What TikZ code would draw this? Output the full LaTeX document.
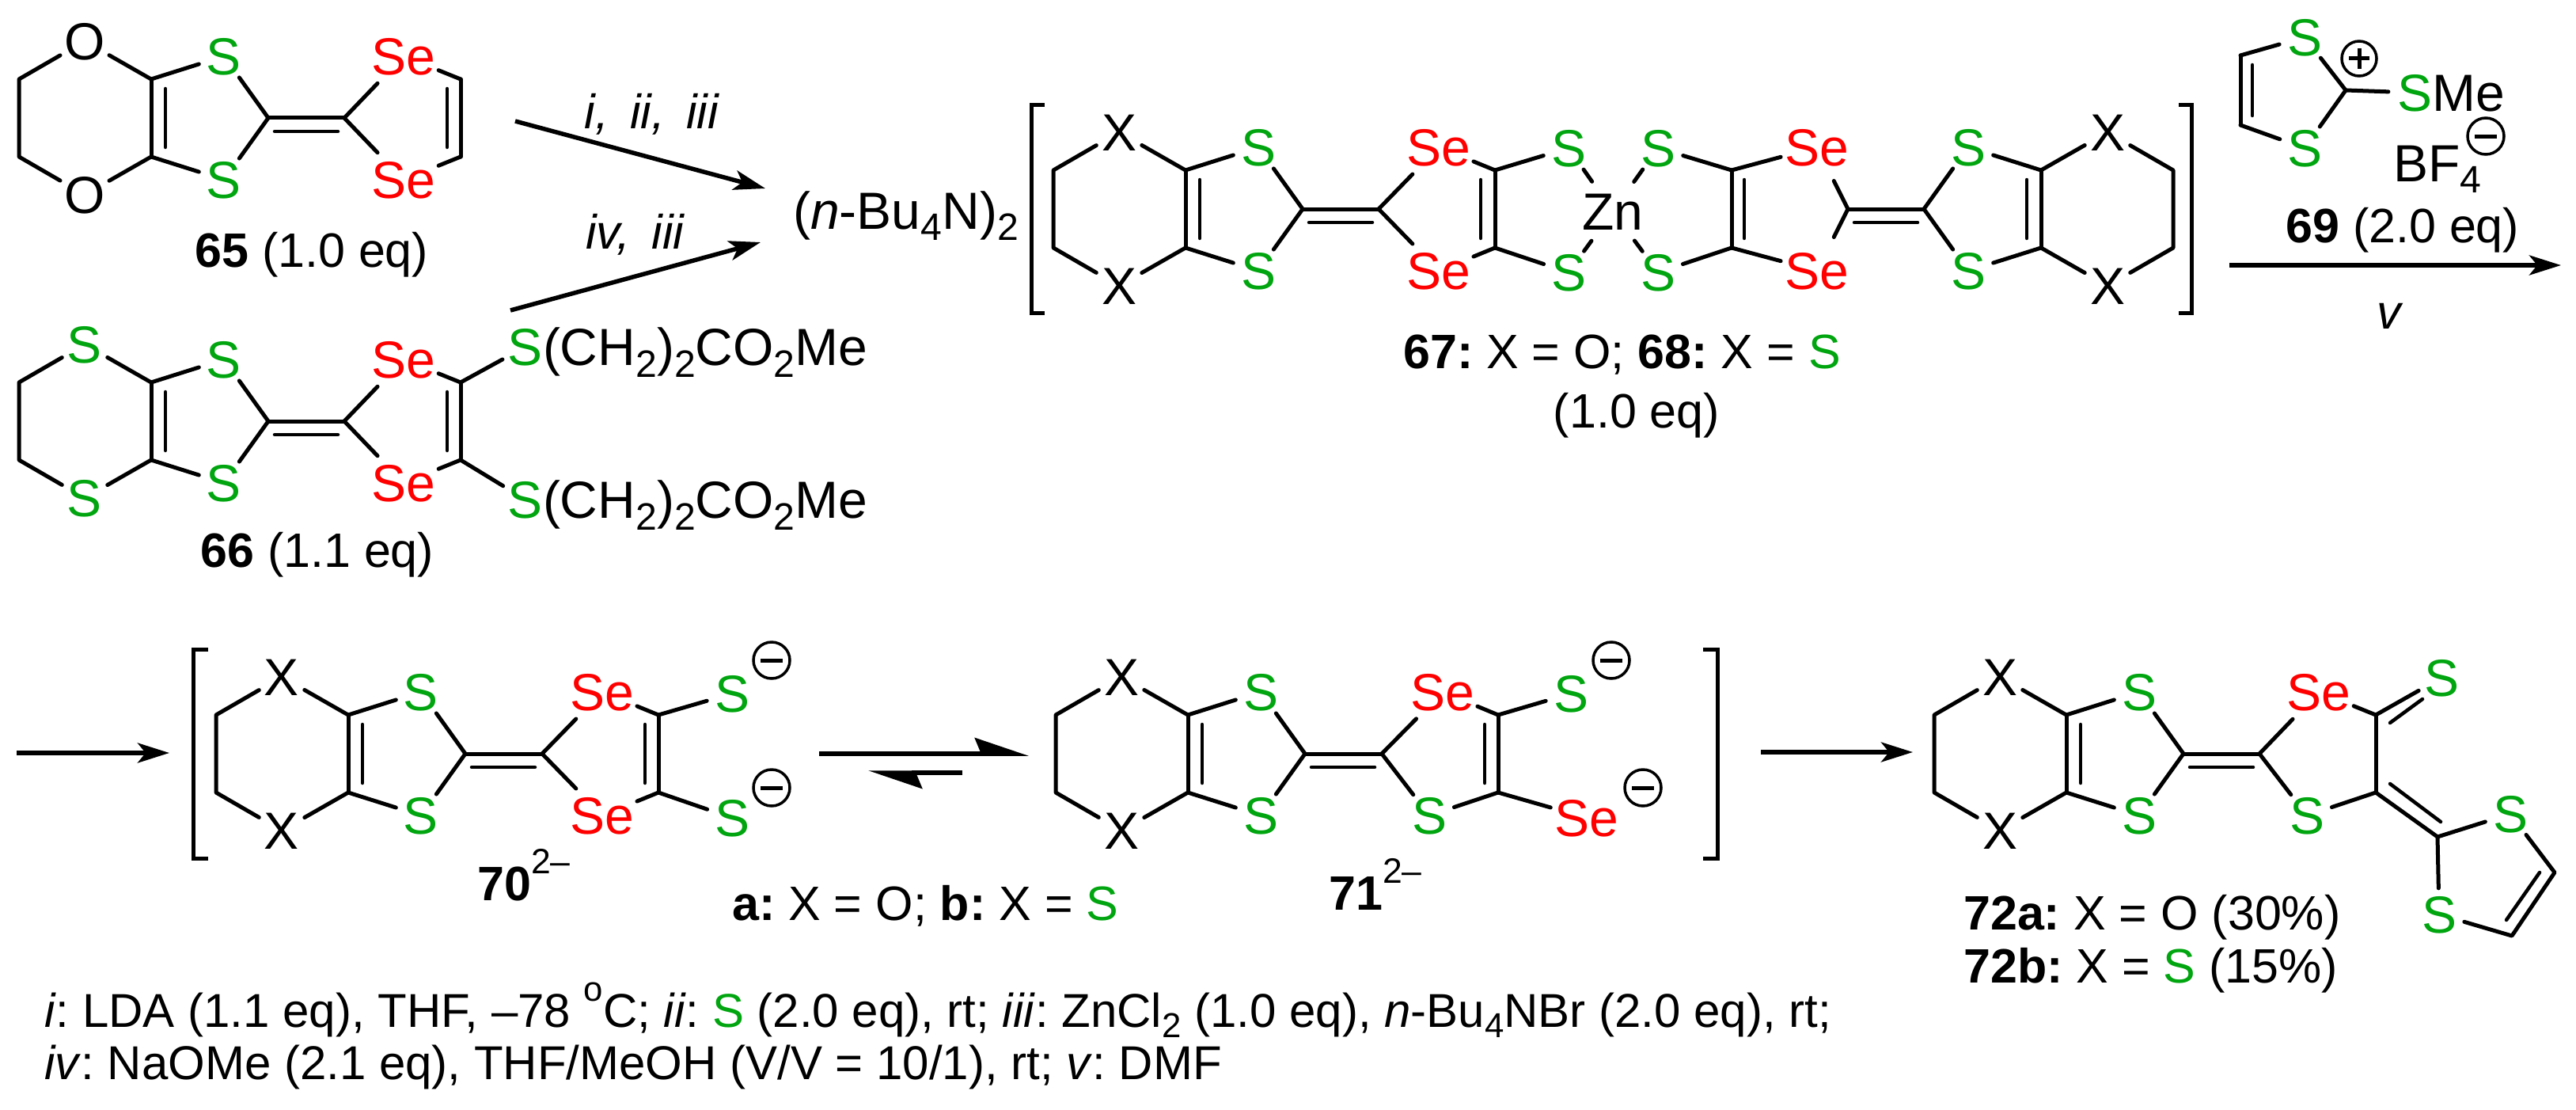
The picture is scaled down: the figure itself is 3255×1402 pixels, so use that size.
\documentclass[tikz,border=0pt]{standalone}
\usepackage{fontspec}
\setmainfont{Liberation Sans}
\usetikzlibrary{arrows.meta}
\definecolor{sgreen}{RGB}{0,165,15}
\definecolor{sered}{RGB}{255,0,0}
\newcommand\fs{\fontsize{61}{61}\selectfont\frenchspacing}
\newcommand\fa{\fontsize{66}{66}\selectfont\frenchspacing}
\newcommand\ff{\fontsize{60}{60}\selectfont\frenchspacing}
\newlength\subsz
\newcommand\lsub[1]{\raisebox{-0.22em}{\setlength\subsz{0.73em}\fontsize{\the\subsz}{\the\subsz}\selectfont #1}}
\newcommand\lsup[1]{\raisebox{0.55em}{\setlength\subsz{0.73em}\fontsize{\the\subsz}{\the\subsz}\selectfont #1}}
\newcommand\gS{\textcolor{sgreen}{S}}
\tikzset{
  atom/.style={circle,inner sep=0pt,outer sep=1pt,text height=47pt,text depth=0pt,font=\fa},
  atomS/.style={atom,text=sgreen},
  atomSe/.style={atom,text=sered},
  atomK/.style={atom,text=black},
  bond/.style={line width=5pt,line cap=round,line join=round},
  innerb/.style={line width=4.5pt,line cap=round},
  rxn/.style={line width=5.5pt,-{Stealth[length=40pt,width=25pt,inset=10pt]}},
  eqm/.style={line width=5.5pt,-{Stealth[harpoon,length=60pt,width=40pt,inset=8pt]}},
  lab/.style={anchor=base west,inner sep=0pt,font=\fs},
  laba/.style={anchor=base west,inner sep=0pt,font=\fa},
  labf/.style={anchor=base west,inner sep=0pt,font=\ff},
  labc/.style={anchor=base,inner sep=0pt,font=\fs},
  chg/.style={circle,draw,line width=3.5pt,minimum size=#1,inner sep=0pt},
  sign/.style={line width=5pt},
  brk/.style={line width=5pt,line join=miter}
}
% prefix, x, y, dir, hetero style, hetero text
\newcommand\donor[6]{%
\begin{scope}[shift={(#2,#3)},xscale=#4,name prefix=#1-]
\coordinate (c0) at (0,0);
\coordinate (c3) at (96,0);
\coordinate (c1) at (-148,-49);
\coordinate (c2) at (-148,49);
\coordinate (e1) at (-315,-49);
\coordinate (e2) at (-315,49);
\coordinate (i1) at (8,17);
\coordinate (i2) at (88,17);
\coordinate (i5) at (-130,-37);
\coordinate (i6) at (-130,37);
\node[#5] (h1) at (-232,-97) {#6};
\node[#5] (h2) at (-232,97) {#6};
\node[atomS] (s1) at (-56,-78) {S};
\node[atomS] (s2) at (-56,78) {S};
\draw[bond] (c0)--(s1);
\draw[bond] (c0)--(s2);
\draw[bond] (c0)--(c3);
\draw[innerb] (i1)--(i2);
\draw[bond] (s1)--(c1);
\draw[bond] (c1)--(c2);
\draw[innerb] (i5)--(i6);
\draw[bond] (c2)--(s2);
\draw[bond] (c1)--(h1);
\draw[bond] (c2)--(h2);
\draw[bond] (h1)--(e1)--(e2)--(h2);
\end{scope}}
% prefix, x, y, dir, Se dx, bottom style, bottom dx, bottom text
\newcommand\acceptor[8]{%
\begin{scope}[shift={(#2,#3)},xscale=#4,name prefix=#1-]
\coordinate (ca) at (0,0);
\coordinate (r1) at (147,-49);
\coordinate (r2) at (147,49);
\node[atomSe] (se1) at (#5,-78) {Se};
\node[#6] (se2) at (#7,78) {#8};
\draw[bond] (ca)--(se1);
\draw[bond] (ca)--(se2);
\draw[bond] (se1)--(r1);
\draw[bond] (se2)--(r2);
\end{scope}}
\newcommand\ringdbl[3]{%
\draw[bond] (#1)--(#2);
\draw[innerb] ([xshift=#3pt,yshift=-12pt]#1)--([xshift=#3pt,yshift=12pt]#2);}
\newcommand\chgminus[3]{%
\node[chg=46pt] (#1) at (#2,#3) {};
\draw[sign] ([xshift=-14pt]#1.center)--([xshift=14pt]#1.center);}
\begin{document}
\begin{tikzpicture}[x=1pt,y=-1pt]
\useasboundingbox (0,0) rectangle (3255,1402);
\fill[white] (0,0) rectangle (3255,1402);
% 65
\donor{a}{339}{149}{1}{atomK}{O}
\acceptor{ar}{435}{149}{1}{75}{atomSe}{75}{Se}
\ringdbl{ar-r1}{ar-r2}{-17}
\node[lab] (l65) at (246,337) {\textbf{65} (1.0 eq)};
% 66
\donor{b}{339}{532}{1}{atomS}{S}
\acceptor{br}{435}{532}{1}{75}{atomSe}{75}{Se}
\ringdbl{br-r1}{br-r2}{-17}
\node[atomS] (bs1) at (664,438) {S\rlap{\textcolor{black}{(CH\lsub{2})\lsub{2}CO\lsub{2}Me}}};
\node[atomS] (bs2) at (664,631) {S\rlap{\textcolor{black}{(CH\lsub{2})\lsub{2}CO\lsub{2}Me}}};
\draw[bond] (br-r1)--(bs1);
\draw[bond] (br-r2)--(bs2);
\node[lab] (l66) at (253,716) {\textbf{66} (1.1 eq)};
% arrows to 67
\coordinate (a1s) at (651,153);
\coordinate (a1e) at (967,238);
\coordinate (a2s) at (645,392);
\coordinate (a2e) at (961,306);
\draw[rxn] (a1s)--(a1e);
\draw[rxn] (a2s)--(a2e);
\node[labc] (t1) at (824,162) {\textit{i, \,ii, \,iii}};
\node[labc] (t2) at (803,314) {\textit{iv, \,iii}};
\node[laba] (cat) at (1002,289) {(\textit{n}-Bu\lsub{4}N)\lsub{2}};
% 67/68
\draw[brk] (1320,133)-|(1303,395)--(1320,395);
\donor{c}{1646}{264}{1}{atomK}{X}
\acceptor{cr}{1742}{264}{1}{76}{atomSe}{76}{Se}
\ringdbl{cr-r1}{cr-r2}{-18}
\donor{d}{2431}{264}{-1}{atomK}{X}
\acceptor{dr}{2335}{264}{-1}{39}{atomSe}{39}{Se}
\ringdbl{dr-r1}{dr-r2}{16}
\node[atomS] (zs1) at (1982,187) {S};
\node[atomS] (zs2) at (1982,344) {S};
\node[atomS] (zs3) at (2095,187) {S};
\node[atomS] (zs4) at (2095,344) {S};
\node[atomK] (zn) at (2038,267) {Zn};
\draw[bond] (cr-r1)--(zs1);
\draw[bond] (cr-r2)--(zs2);
\draw[bond] (dr-r1)--(zs3);
\draw[bond] (dr-r2)--(zs4);
\draw[bond] (zs1)--(zn);
\draw[bond] (zs2)--(zn);
\draw[bond] (zs3)--(zn);
\draw[bond] (zs4)--(zn);
\draw[brk] (2753,133)-|(2769,395)--(2753,395);
\node[lab] (l67) at (1773,465) {\textbf{67:} X = O; \textbf{68:} X = \gS};
\node[labc] (l67b) at (2068,540) {(1.0 eq)};
% 69
\node[atomS] (p1) at (2912,47) {S};
\node[atomS] (p2) at (2912,187) {S};
\coordinate (p3) at (2831,70);
\coordinate (p4) at (2831,158);
\coordinate (p5) at (2964,114);
\node[atomS] (p6) at (3051,117) {S\rlap{\textcolor{black}{Me}}};
\draw[bond] (p1)--(p3);
\ringdbl{p3}{p4}{15}
\draw[bond] (p4)--(p2);
\draw[bond] (p2)--(p5);
\draw[bond] (p5)--(p1);
\draw[bond] (p5)--(p6);
\node[chg=44pt] (pc) at (2981,74) {};
\draw[sign] ([xshift=-13pt]pc.center)--([xshift=13pt]pc.center);
\draw[sign] ([yshift=-13pt]pc.center)--([yshift=13pt]pc.center);
\node[laba] (bf) at (3024,229) {BF\lsub{4}};
\chgminus{bfc}{3141}{172}
\node[lab] (l69) at (2888,306) {\textbf{69} (2.0 eq)};
\coordinate (a3s) at (2817,335);
\coordinate (a3e) at (3236,335);
\draw[rxn] (a3s)--(a3e);
\node[labc] (t3) at (3020,415) {\textit{v}};
% row 2
\coordinate (a4s) at (21,951);
\coordinate (a4e) at (214,951);
\draw[rxn] (a4s)--(a4e);
\draw[brk] (263,820)-|(244,1084)--(263,1084);
% 70
\donor{e}{588}{952}{1}{atomK}{X}
\acceptor{er}{685}{952}{1}{76}{atomSe}{76}{Se}
\ringdbl{er-r1}{er-r2}{-17}
\node[atomS] (es1) at (925,876) {S};
\node[atomS] (es2) at (925,1033) {S};
\draw[bond] (er-r1)--(es1);
\draw[bond] (er-r2)--(es2);
\chgminus{ec1}{975}{834}
\chgminus{ec2}{975}{995}
\node[lab] (l70) at (603,1137) {\textbf{70}\lsup{2–}};
\node[lab] (lab) at (925,1162) {\textbf{a:} X = O; \textbf{b:} X = \gS};
% equilibrium
\coordinate (q1s) at (1035,952);
\coordinate (q1e) at (1300,952);
\coordinate (q2s) at (1216,976);
\coordinate (q2e) at (1097,976);
\draw[eqm] (q1s)--(q1e);
\draw[eqm] (q2s)--(q2e);
% 71
\donor{f}{1649}{952}{1}{atomK}{X}
\acceptor{fr}{1746}{952}{1}{77}{atomS}{60}{S}
\ringdbl{fr-r1}{fr-r2}{-17}
\node[atomS] (fs1) at (1985,876) {S};
\node[atomSe] (fs2) at (2005,1033) {Se};
\draw[bond] (fr-r1)--(fs1);
\draw[bond] (fr-r2)--(fs2);
\chgminus{fc1}{2036}{834}
\chgminus{fc2}{2076}{995}
\node[lab] (l71) at (1679,1149) {\textbf{71}\lsup{2–}};
\draw[brk] (2152,820)-|(2170,1084)--(2152,1084);
% 72
\coordinate (a5s) at (2225,950);
\coordinate (a5e) at (2417,950);
\draw[rxn] (a5s)--(a5e);
\donor{g}{2759}{952}{1}{atomK}{X}
\acceptor{gr}{2855}{952}{1}{75}{atomS}{60}{S}
\draw[bond] (gr-r1)--(gr-r2);
\node[atomS] (g1) at (3085,856) {S};
\coordinate (g2) at (3080,1057);
\node[atomS] (g3) at (3172,1028) {S};
\node[atomS] (g4) at (3082,1155) {S};
\coordinate (g5) at (3228,1102);
\coordinate (g6) at (3174,1182);
\coordinate (i1) at (3020,913);
\coordinate (i2) at (3061,883);
\coordinate (i3) at (3020,990);
\coordinate (i4) at (3084,1038);
\coordinate (i5) at (3209,1102);
\coordinate (i6) at (3167,1162);
\draw[bond] (gr-r1)--(g1);
\draw[innerb] (i1)--(i2);
\draw[bond] (gr-r2)--(g2);
\draw[innerb] (i3)--(i4);
\draw[bond] (g2)--(g3);
\draw[bond] (g2)--(g4);
\draw[bond] (g3)--(g5)--(g6)--(g4);
\draw[innerb] (i5)--(i6);
\node[lab] (l72a) at (2481,1174) {\textbf{72a:} X = O (30\%)};
\node[lab] (l72b) at (2481,1241) {\textbf{72b:} X = \gS{} (15\%)};
% footnote
\node[labf] (n1) at (56,1297) {\textit{i}: LDA (1.1 eq), THF, –78 \lsup{o}C; \textit{ii}: \gS{} (2.0 eq), rt; \textit{iii}: ZnCl\lsub{2} (1.0 eq), \textit{n}-Bu\lsub{4}NBr (2.0 eq), rt;};
\node[labf] (n2) at (56,1363) {\textit{iv}: NaOMe (2.1 eq), THF/MeOH (V/V = 10/1), rt; \textit{v}: DMF};
\end{tikzpicture}
\end{document}
